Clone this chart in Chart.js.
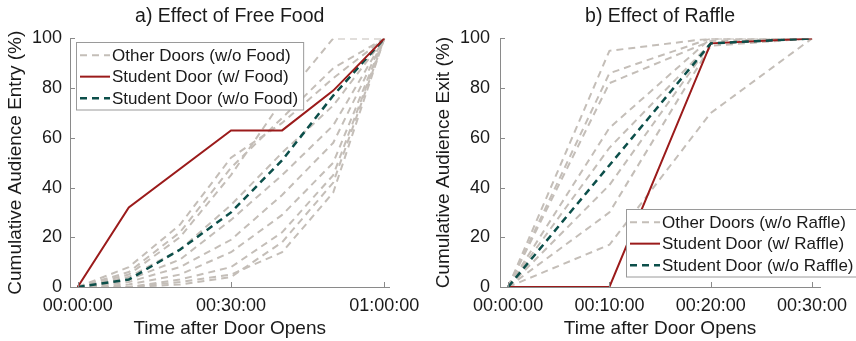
<!DOCTYPE html>
<html>
<head>
<meta charset="utf-8">
<script src="https://cdn.jsdelivr.net/npm/chart.js"></script>
<style>
  body { margin: 0; background: #fff; }
  .panel { position: absolute; top: 0; width: 428px; height: 341px; }
</style>
</head>
<body>
<div class="panel" style="left:0"><canvas id="foodChart" width="428" height="341"></canvas></div>
<div class="panel" style="left:428px"><canvas id="raffleChart" width="428" height="341"></canvas></div>
<script>
// minutes after the door opens
const foodTimes = [0, 10, 20, 30, 40, 50, 60];
const foodRedTimes = [0, 10, 30, 40, 50, 60];
const foodStudentWith = [0, 32, 63, 63, 79, 100];
const foodStudentWithout = [0, 3, 15, 30, 51, 77, 100];
const foodOtherDoors = [
    [0, 5, 20, 45, 75, 100, 100],
    [0, 6, 22, 48, 68, 88, 100],
    [0, 8, 25, 52, 66, 84, 100],
    [0, 4, 15, 33, 54, 73, 100],
    [0, 3, 11, 27, 45, 65, 100],
    [0, 2, 8, 19, 37, 58, 100],
    [0, 1, 5, 14, 29, 50, 100],
    [0, 0, 3, 8, 22, 45, 100],
    [0, 0, 2, 5, 14, 38, 100],
    [0, 0, 1, 4, 18, 42, 100]
];
const foodTicks = [0, 30, 60];

const raffleTimes = [0, 10, 20, 30];
const raffleStudentWith = [0, 0, 98, 100];
const raffleStudentWithout = [0, 49, 98, 100];
const raffleOtherDoors = [
    [0, 95, 100, 100],
    [0, 86, 100, 100],
    [0, 82, 99, 100],
    [0, 64, 100, 100],
    [0, 56, 98, 100],
    [0, 41, 98, 100],
    [0, 30, 97, 100],
    [0, 17, 70, 100]
];
const raffleTicks = [0, 10, 20, 30];
const yTicks = [0, 20, 40, 60, 80, 100];

const GREY = '#c4beb8';
const RED = '#9b1b1b';
const TEAL = '#0c4f4a';
const AXIS = '#8a8a8a';
const TEXT = '#1a1a1a';
const FONT = 'Liberation Sans, Arial, sans-serif';

function toPoints(xs, ys) {
    return xs.map((x, i) => ({ x: x, y: ys[i] }));
}

function hms(min) {
    const h = Math.floor(min / 60);
    const m = min % 60;
    return String(h).padStart(2, '0') + ':' + String(m).padStart(2, '0') + ':00';
}

// inward tick marks like the original figure
const innerTicks = {
    id: 'innerTicks',
    afterDraw(chart) {
        const { ctx, chartArea, scales } = chart;
        ctx.save();
        ctx.strokeStyle = AXIS;
        ctx.lineWidth = 1;
        ctx.beginPath();
        scales.x.ticks.forEach(t => {
            const px = Math.round(scales.x.getPixelForValue(t.value)) + 0.5;
            ctx.moveTo(px, chartArea.bottom);
            ctx.lineTo(px, chartArea.bottom - 5);
        });
        scales.y.ticks.forEach(t => {
            const py = Math.round(scales.y.getPixelForValue(t.value)) + 0.5;
            ctx.moveTo(chartArea.left, py);
            ctx.lineTo(chartArea.left + 5, py);
        });
        ctx.stroke();
        ctx.restore();
    }
};

// boxed legend drawn inside the plot
const boxLegend = {
    id: 'boxLegend',
    afterDraw(chart, args, opts) {
        const { ctx, chartArea } = chart;
        const items = chart.data.datasets.filter(d => d.inLegend);
        const x0 = chartArea.left + opts.dx;
        const y0 = chartArea.top + opts.dy;
        const rowH = 21.5;
        ctx.save();
        ctx.font = '17px ' + FONT;
        let textW = 0;
        items.forEach(d => { textW = Math.max(textW, ctx.measureText(d.label).width); });
        const w = 37 + textW + 4;
        const h = items.length * rowH + 3;
        ctx.fillStyle = '#fff';
        ctx.fillRect(x0, y0, w, h);
        ctx.strokeStyle = '#9a9a9a';
        ctx.lineWidth = 1;
        ctx.strokeRect(Math.round(x0) + 0.5, Math.round(y0) + 0.5, w, h);
        items.forEach((d, i) => {
            const cy = y0 + 2 + rowH * (i + 0.5);
            ctx.strokeStyle = d.borderColor;
            ctx.lineWidth = d.borderWidth;
            ctx.setLineDash(d.borderDash || []);
            ctx.beginPath();
            ctx.moveTo(x0 + 4, cy);
            ctx.lineTo(x0 + 34, cy);
            ctx.stroke();
            ctx.setLineDash([]);
            ctx.fillStyle = TEXT;
            ctx.textBaseline = 'middle';
            ctx.fillText(d.label, x0 + 36, cy + 1);
        });
        ctx.restore();
    }
};

function makeChart(id, cfg) {
    const datasets = [];
    cfg.others.forEach((ys, i) => {
        datasets.push({
            label: cfg.otherLabel, inLegend: i === 0, order: 3,
            data: toPoints(cfg.times, ys),
            borderColor: GREY, borderWidth: 2, borderDash: [7, 5]
        });
    });
    datasets.push({
        label: cfg.withLabel, inLegend: true, order: cfg.redOrder,
        data: toPoints(cfg.redTimes, cfg.withVals),
        borderColor: RED, borderWidth: 2
    });
    datasets.push({
        label: cfg.withoutLabel, inLegend: true, order: cfg.tealOrder,
        data: toPoints(cfg.times, cfg.withoutVals),
        borderColor: TEAL, borderWidth: 2.5, borderDash: [7, 5]
    });

    return new Chart(document.getElementById(id), {
        type: 'line',
        data: { datasets: datasets },
        plugins: [innerTicks, boxLegend],
        options: {
            responsive: false,
            animation: false,
            devicePixelRatio: 1,
            elements: { point: { radius: 0 }, line: { tension: 0, fill: false } },
            layout: { padding: { left: 0, right: cfg.padRight, top: 0, bottom: 0 } },
            plugins: {
                legend: { display: false },
                tooltip: { enabled: false },
                title: {
                    display: true, text: cfg.title, fullSize: false,
                    color: TEXT, font: { family: FONT, size: 19.5, weight: 'normal' },
                    padding: { top: 5, bottom: 10 }
                },
                boxLegend: { dx: cfg.legendDx, dy: cfg.legendDy }
            },
            scales: {
                x: {
                    type: 'linear', min: cfg.xMin, max: cfg.xMax,
                    afterBuildTicks: s => { s.ticks = cfg.ticks.map(v => ({ value: v })); },
                    afterFit: s => { s.height = 54; },
                    grid: { display: false, drawTicks: false },
                    border: { display: true, color: AXIS, width: 1 },
                    ticks: {
                        color: TEXT, font: { family: FONT, size: 18 }, padding: 8,
                        maxRotation: 0, autoSkip: false,
                        callback: v => hms(v)
                    },
                    title: {
                        display: true, text: 'Time after Door Opens', color: TEXT,
                        font: { family: FONT, size: 19 }, padding: { top: 0, bottom: 1 }
                    }
                },
                y: {
                    min: 0, max: 100,
                    afterBuildTicks: s => { s.ticks = yTicks.map(v => ({ value: v })); },
                    afterFit: s => { s.width = cfg.yWidth; },
                    grid: { display: false, drawTicks: false },
                    border: { display: true, color: AXIS, width: 1 },
                    ticks: { color: TEXT, font: { family: FONT, size: 18 }, padding: cfg.yPad },
                    title: {
                        display: true, text: cfg.yTitle, color: TEXT,
                        font: { family: FONT, size: 19 }, padding: { top: 4, bottom: 4 }
                    }
                }
            }
        }
    });
}

makeChart('foodChart', {
    title: 'a) Effect of Free Food',
    yTitle: 'Cumulative Audience Entry (%)',
    times: foodTimes, redTimes: foodRedTimes,
    others: foodOtherDoors, withVals: foodStudentWith, withoutVals: foodStudentWithout,
    otherLabel: 'Other Doors (w/o Food)',
    withLabel: 'Student Door (w/ Food)',
    withoutLabel: 'Student Door (w/o Food)',
    ticks: foodTicks, xMin: -1.5, xMax: 61,
    redOrder: 1, tealOrder: 2,
    yWidth: 70, yPad: 8, padRight: 38,
    legendDx: 6, legendDy: 4
});

makeChart('raffleChart', {
    title: 'b) Effect of Raffle',
    yTitle: 'Cumulative Audience Exit (%)',
    times: raffleTimes, redTimes: raffleTimes,
    others: raffleOtherDoors, withVals: raffleStudentWith, withoutVals: raffleStudentWithout,
    otherLabel: 'Other Doors (w/o Raffle)',
    withLabel: 'Student Door (w/ Raffle)',
    withoutLabel: 'Student Door (w/o Raffle)',
    ticks: raffleTicks, xMin: -0.8, xMax: 30.8,
    redOrder: 2, tealOrder: 1,
    yWidth: 72, yPad: 10, padRight: 34,
    legendDx: 126, legendDy: 171
});
</script>
</body>
</html>
